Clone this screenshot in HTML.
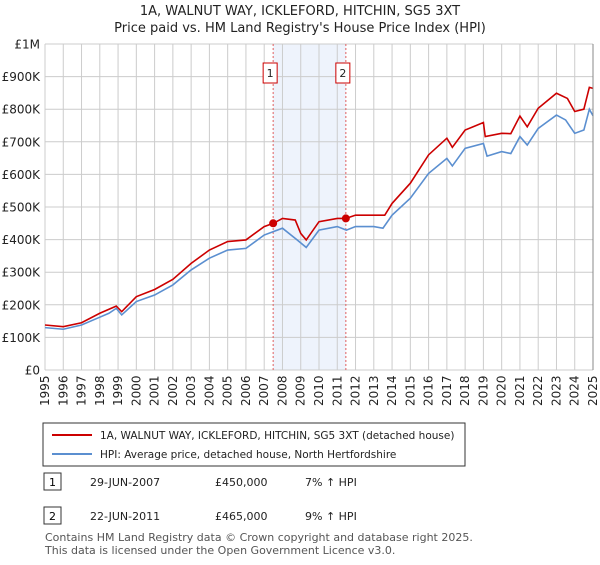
<!DOCTYPE html>
<html><head><meta charset="utf-8"><style>
body{margin:0;background:#fff;font-family:"Liberation Sans","DejaVu Sans",sans-serif;}
svg text{font-family:"DejaVu Sans","Liberation Sans",sans-serif;}
</style></head><body>
<svg id="c" width="600" height="560" xmlns="http://www.w3.org/2000/svg">
<text x="300" y="15" text-anchor="middle" font-size="13" fill="#222">1A, WALNUT WAY, ICKLEFORD, HITCHIN, SG5 3XT</text>
<text x="300" y="32" text-anchor="middle" font-size="13" fill="#222">Price paid vs. HM Land Registry's House Price Index (HPI)</text>
<g id="plot"></g>
<rect x="43" y="423" width="422" height="43" fill="#fff" stroke="#333" stroke-width="1"/>
<line x1="52" y1="435" x2="92" y2="435" stroke="#cc0000" stroke-width="2"/>
<text x="100" y="439" font-size="10.5" fill="#222">1A, WALNUT WAY, ICKLEFORD, HITCHIN, SG5 3XT (detached house)</text>
<line x1="52" y1="454" x2="92" y2="454" stroke="#5b8fd0" stroke-width="2"/>
<text x="100" y="458" font-size="10.5" fill="#222">HPI: Average price, detached house, North Hertfordshire</text>
<rect x="44" y="473" width="17" height="17" fill="#fff" stroke="#333"/>
<text x="52.5" y="486" text-anchor="middle" font-size="11">1</text>
<text x="90" y="486" font-size="11" fill="#222">29-JUN-2007</text>
<text x="215" y="486" font-size="11" fill="#222">£450,000</text>
<text x="305" y="486" font-size="11" fill="#222">7% ↑ HPI</text>
<rect x="44" y="507" width="17" height="17" fill="#fff" stroke="#333"/>
<text x="52.5" y="520" text-anchor="middle" font-size="11">2</text>
<text x="90" y="520" font-size="11" fill="#222">22-JUN-2011</text>
<text x="215" y="520" font-size="11" fill="#222">£465,000</text>
<text x="305" y="520" font-size="11" fill="#222">9% ↑ HPI</text>
<text x="45" y="541" font-size="11" fill="#555">Contains HM Land Registry data © Crown copyright and database right 2025.</text>
<text x="45" y="554" font-size="11" fill="#555">This data is licensed under the Open Government Licence v3.0.</text>
</svg>
<script>
const years=[1995,1996,1997,1998,1999,2000,2001,2002,2003,2004,2005,2006,2007,2008,2009,2010,2011,2012,2013,2014,2015,2016,2017,2018,2019,2020,2021,2022,2023,2024,2025];
const yTicks=[0,100000,200000,300000,400000,500000,600000,700000,800000,900000,1000000];
const yTickLabels=["£0","£100K","£200K","£300K","£400K","£500K","£600K","£700K","£800K","£900K","£1M"];
const hpiT=[1995,1996,1997,1998,1998.5,1998.9,1999.2,2000,2001,2002,2003,2004,2005,2006,2007,2008,2008.8,2009.3,2010,2011,2011.5,2012,2013,2013.5,2014,2015,2016,2017,2017.3,2018,2019,2019.2,2020,2020.5,2021,2021.4,2022,2023,2023.5,2024,2024.5,2024.8,2025];
const hpiV=[130000,125000,138000,162000,174000,189000,169000,210000,230000,261000,307000,343000,368000,373000,414000,435000,399000,376000,429000,440000,429000,440000,440000,435000,475000,527000,603000,649000,626000,680000,695000,656000,670000,664000,716000,690000,741000,782000,767000,726000,736000,800000,780000];
const priceT=[1995,1996,1997,1998,1998.9,1999.2,2000,2001,2002,2003,2004,2005,2006,2007,2007.5,2008,2008.7,2009,2009.3,2010,2011,2011.47,2012,2013,2013.6,2014,2015,2016,2017,2017.3,2018,2019,2019.1,2020,2020.5,2021,2021.4,2022,2023,2023.6,2024,2024.5,2024.8,2025];
const priceV=[138000,133000,145000,174000,196000,179000,225000,247000,278000,327000,368000,394000,399000,440000,450000,465000,460000,419000,399000,455000,465000,465000,475000,475000,475000,511000,573000,660000,711000,683000,736000,759000,716000,726000,725000,779000,746000,803000,849000,833000,793000,800000,867000,864000];
const saleT=[2007.49,2011.47];
const saleV=[450000,465000];
const saleLabels=["1","2"];
const X0=45,X1=593,Y0=370,Y1=44;
const sx=t=>X0+(t-1995)/30*(X1-X0);
const sy=v=>Y0-v/1000000*(Y0-Y1);
const NS="http://www.w3.org/2000/svg";
const g=document.getElementById('plot');
function mk(tag,attrs){const e=document.createElementNS(NS,tag);for(const k in attrs)e.setAttribute(k,attrs[k]);g.appendChild(e);return e;}
let e;
e=mk('rect',{x:sx(saleT[0]),y:Y1,width:sx(saleT[1])-sx(saleT[0]),height:Y0-Y1,fill:'#eef3fc'});


years.forEach(y=>{
 e=mk('line',{x1:sx(y),x2:sx(y),y1:Y1,y2:Y0,stroke:'#cccccc','stroke-width':1});
 
 
 e=mk('text',{transform:`translate(${sx(y)+4},${Y0+36}) rotate(-90)`,'font-size':12,fill:'#222'});
 e.textContent=y;
 
 
});
yTicks.forEach((v,i)=>{
 e=mk('line',{x1:X0,x2:X1,y1:sy(v),y2:sy(v),stroke:'#cccccc','stroke-width':1});
 
 
 e=mk('text',{x:X0-5,y:sy(v)+4.5,'text-anchor':'end','font-size':12,fill:'#222'});
 e.textContent=yTickLabels[i];
 
 
});
saleT.forEach((t,i)=>{
 e=mk('line',{x1:sx(t),x2:sx(t),y1:Y1,y2:Y0,stroke:'#e06060','stroke-width':1,'stroke-dasharray':'2,2'});
 
 
 e=mk('rect',{x:sx(t)-10,y:63,width:14,height:20,fill:'#fff',stroke:'#cc0000'});
 
 
 e=mk('text',{x:sx(t)-3,y:77,'text-anchor':'middle','font-size':11,fill:'#222'});
 e.textContent=saleLabels[i];
 
 
});
e=mk('polyline',{points:hpiT.map((t,i)=>sx(t)+','+sy(hpiV[i])).join(' '),fill:'none',stroke:'#5b8fd0','stroke-width':1.6});


e=mk('polyline',{points:priceT.map((t,i)=>sx(t)+','+sy(priceV[i])).join(' '),fill:'none',stroke:'#cc0000','stroke-width':1.6});


saleT.forEach((t,i)=>{
 e=mk('circle',{cx:sx(t),cy:sy(saleV[i]),r:4,fill:'#cc0000'});
 
 
});
e=mk('line',{x1:X1,x2:X1,y1:Y1,y2:Y0,stroke:'#888','stroke-width':1});


</script>
</body></html>
